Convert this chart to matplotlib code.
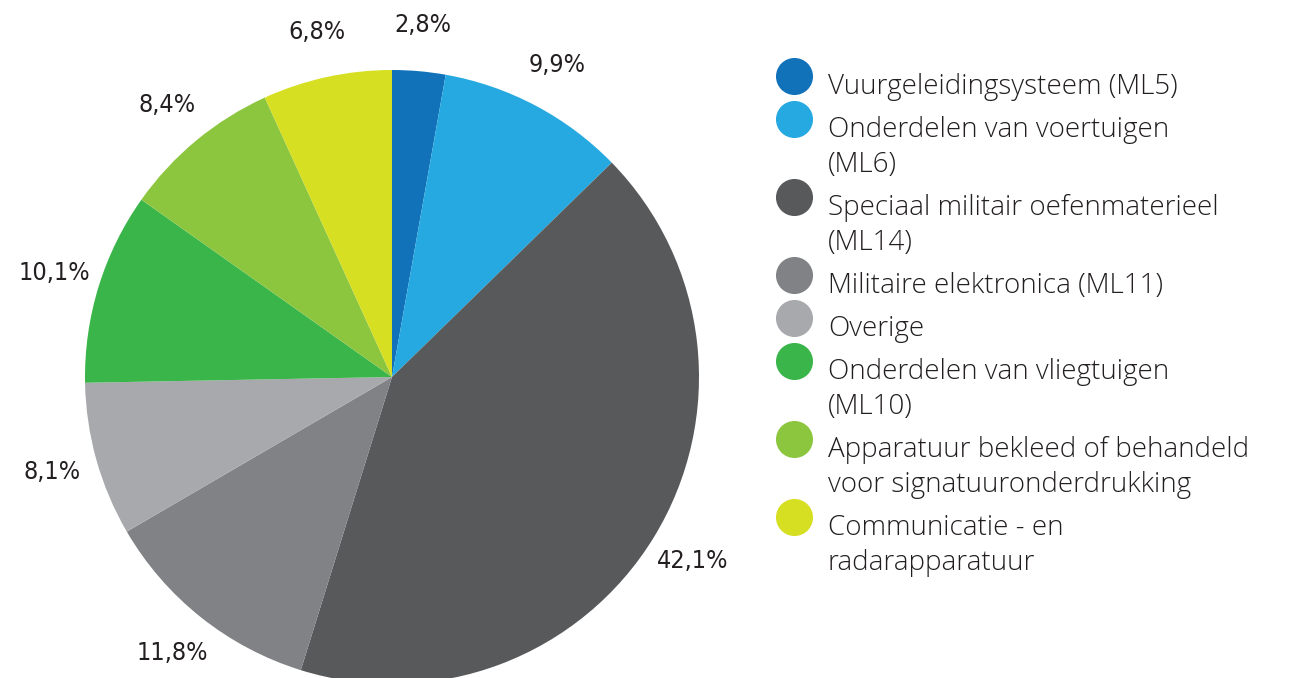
import matplotlib.pyplot as plt
import matplotlib as mpl

mpl.rcParams["font.family"] = ["Open Sans", "DejaVu Sans"]

# ── data ─────────────────────────────────────
categories = [
    "Vuurgeleidingsysteem (ML5)",
    "Onderdelen van voertuigen\n(ML6)",
    "Speciaal militair oefenmaterieel\n(ML14)",
    "Militaire elektronica (ML11)",
    "Overige",
    "Onderdelen van vliegtuigen\n(ML10)",
    "Apparatuur bekleed of behandeld\nvoor signatuuronderdrukking",
    "Communicatie - en\nradarapparatuur",
]
shares = [2.8, 9.9, 42.1, 11.8, 8.1, 10.1, 8.4, 6.8]
colors = ["#1172ba", "#26a9e0", "#58595b", "#808285",
          "#a7a9ac", "#3ab54a", "#8cc63f", "#d6df22"]

W, H = 1298, 678
fig = plt.figure(figsize=(W / 100, H / 100), dpi=100)
ax = fig.add_axes([0, 0, 1, 1])

# ── pie ──────────────────────────────────────
cx, cy, r = 392, H - 377, 307
wedges, texts = ax.pie(
    shares, colors=colors, startangle=90, counterclock=False,
    center=(cx, cy), radius=r, frame=True,
    labels=[f"{v:.1f}%".replace(".", ",") for v in shares],
    labeldistance=1.15,
    wedgeprops=dict(linewidth=0),
    textprops=dict(fontsize=18, color="#231f20", family="DejaVu Sans",
                   stretch="condensed", weight="light"),
)
for t in texts:
    t.set_ha("center")
    t.set_va("center")
ax.set_xlim(0, W)
ax.set_ylim(0, H)
ax.axis("off")

# ── legend ───────────────────────────────────
y = H - 76
for label, c in zip(categories, colors):
    ax.scatter([794], [y], s=37 ** 2 * 0.52, color=c, linewidths=0, clip_on=False)
    for i, line in enumerate(label.split("\n")):
        ax.text(828, y - 18 - 35 * i, line, fontsize=20, color="#231f20",
                weight="light", va="baseline", ha="left")
    y -= 43 + 35 * label.count("\n")

fig.savefig("out.png", dpi=100)
